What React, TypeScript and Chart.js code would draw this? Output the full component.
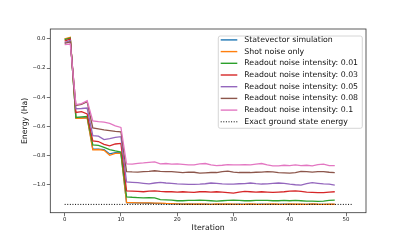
import React, { useEffect, useRef } from "react";
import { Chart, registerables } from "chart.js";

Chart.register(...registerables);

const iterations = [0,1,2,3,4,5,6,7,8,9,10,11,12,13,14,15,16,17,18,19,20,21,22,23,24,25,26,27,28,29,30,31,32,33,34,35,36,37,38,39,40,41,42,43,44,45,46,47,48];

const statevector = [0.000,0.005,-0.543,-0.542,-0.540,-0.755,-0.757,-0.760,-0.790,-0.782,-0.783,
  -1.125,-1.126,-1.127,-1.128,-1.129,-1.130,-1.131,-1.132,-1.133,-1.134,-1.135,-1.136,-1.136,-1.137,-1.136,-1.137,-1.137,-1.136,-1.137,-1.137,-1.136,-1.137,-1.137,-1.137,-1.136,-1.137,-1.137,-1.137,-1.136,-1.137,-1.137,-1.137,-1.137,-1.136,-1.137,-1.137,-1.137,-1.137];
const shotNoise = [0.000,0.010,-0.545,-0.545,-0.543,-0.762,-0.760,-0.765,-0.800,-0.787,-0.787,
  -1.124,-1.125,-1.126,-1.126,-1.127,-1.128,-1.128,-1.130,-1.131,-1.133,-1.135,-1.134,-1.136,-1.133,-1.135,-1.137,-1.134,-1.136,-1.133,-1.135,-1.137,-1.136,-1.134,-1.136,-1.137,-1.135,-1.133,-1.136,-1.137,-1.134,-1.136,-1.135,-1.137,-1.134,-1.136,-1.137,-1.135,-1.136];
const readout001 = [-0.005,0.005,-0.540,-0.535,-0.532,-0.728,-0.732,-0.745,-0.760,-0.770,-0.778,
  -1.085,-1.088,-1.090,-1.092,-1.090,-1.092,-1.104,-1.106,-1.108,-1.112,-1.112,-1.110,-1.110,-1.108,-1.110,-1.112,-1.114,-1.112,-1.110,-1.108,-1.110,-1.112,-1.112,-1.110,-1.110,-1.110,-1.112,-1.112,-1.110,-1.112,-1.110,-1.112,-1.114,-1.114,-1.116,-1.114,-1.110,-1.108];
const readout003 = [-0.015,0.000,-0.505,-0.500,-0.515,-0.700,-0.705,-0.725,-0.735,-0.722,-0.718,
  -1.044,-1.046,-1.048,-1.050,-1.046,-1.044,-1.048,-1.050,-1.050,-1.052,-1.050,-1.052,-1.054,-1.050,-1.050,-1.052,-1.050,-1.052,-1.056,-1.060,-1.052,-1.048,-1.050,-1.052,-1.050,-1.052,-1.054,-1.052,-1.050,-1.046,-1.044,-1.048,-1.052,-1.054,-1.056,-1.056,-1.052,-1.050];
const readout005 = [-0.025,-0.010,-0.480,-0.478,-0.475,-0.665,-0.668,-0.692,-0.685,-0.676,-0.672,
  -0.982,-0.985,-0.988,-0.992,-0.996,-0.990,-0.986,-0.990,-0.992,-0.996,-0.998,-1.000,-0.999,-0.998,-0.995,-0.990,-0.992,-0.996,-0.998,-0.998,-0.995,-0.994,-0.990,-0.994,-0.997,-0.996,-0.992,-0.990,-0.992,-0.998,-1.002,-1.004,-0.995,-0.988,-0.992,-0.996,-0.998,-1.004];
const readout008 = [-0.030,-0.020,-0.458,-0.450,-0.432,-0.612,-0.618,-0.625,-0.630,-0.635,-0.638,
  -0.912,-0.914,-0.915,-0.912,-0.910,-0.906,-0.910,-0.912,-0.912,-0.915,-0.918,-0.915,-0.916,-0.922,-0.920,-0.918,-0.918,-0.912,-0.908,-0.915,-0.918,-0.918,-0.918,-0.916,-0.915,-0.912,-0.914,-0.918,-0.920,-0.922,-0.918,-0.910,-0.912,-0.915,-0.912,-0.912,-0.916,-0.918];
const readout01 = [-0.040,-0.035,-0.452,-0.445,-0.425,-0.563,-0.568,-0.572,-0.580,-0.598,-0.608,
  -0.858,-0.860,-0.855,-0.852,-0.848,-0.845,-0.858,-0.856,-0.860,-0.858,-0.862,-0.866,-0.865,-0.858,-0.856,-0.866,-0.870,-0.868,-0.864,-0.866,-0.866,-0.864,-0.865,-0.860,-0.856,-0.866,-0.872,-0.872,-0.868,-0.870,-0.866,-0.870,-0.868,-0.872,-0.864,-0.860,-0.870,-0.870];

const exactX = [0, 51];
const exactEnergy = -1.137;

const seriesNames = [
  "Statevector simulation",
  "Shot noise only",
  "Readout noise intensity: 0.01",
  "Readout noise intensity: 0.03",
  "Readout noise intensity: 0.05",
  "Readout noise intensity: 0.08",
  "Readout noise intensity: 0.1",
];
const exactName = "Exact ground state energy";
const seriesColors = ["#1f77b4", "#ff7f0e", "#2ca02c", "#d62728", "#9467bd", "#8c564b", "#e377c2"];

const xTicks = [0, 10, 20, 30, 40, 50];
const yTicks = [-1.0, -0.8, -0.6, -0.4, -0.2, 0.0];

const FONT = "'DejaVu Sans', sans-serif";

const framePlugin = {
  id: "frameAndLegend",
  afterDatasetsDraw(chart: any) {
    const { ctx, chartArea } = chart;
    ctx.save();
    ctx.strokeStyle = "rgba(0,0,0,0.8)";
    ctx.lineWidth = 0.8;
    ctx.strokeRect(chartArea.left, chartArea.top, chartArea.right - chartArea.left, chartArea.bottom - chartArea.top);

    // legend
    const bx = 218.3, by = 36, bw = 144, bh = 92.3, r = 2;
    ctx.beginPath();
    ctx.moveTo(bx + r, by);
    ctx.lineTo(bx + bw - r, by);
    ctx.quadraticCurveTo(bx + bw, by, bx + bw, by + r);
    ctx.lineTo(bx + bw, by + bh - r);
    ctx.quadraticCurveTo(bx + bw, by + bh, bx + bw - r, by + bh);
    ctx.lineTo(bx + r, by + bh);
    ctx.quadraticCurveTo(bx, by + bh, bx, by + bh - r);
    ctx.lineTo(bx, by + r);
    ctx.quadraticCurveTo(bx, by, bx + r, by);
    ctx.closePath();
    ctx.fillStyle = "rgba(255,255,255,0.8)";
    ctx.fill();
    ctx.strokeStyle = "#cccccc";
    ctx.lineWidth = 0.8;
    ctx.stroke();

    const names = [...seriesNames, exactName];
    const colors = [...seriesColors, "#000000"];
    ctx.font = `7.8px ${FONT}`;
    ctx.textBaseline = "middle";
    ctx.textAlign = "left";
    names.forEach((n, k) => {
      const y = 39.9 + k * 11.7;
      ctx.beginPath();
      ctx.strokeStyle = colors[k];
      ctx.lineWidth = k === 7 ? 1.0 : 1.4;
      ctx.setLineDash(k === 7 ? [1, 1.6] : []);
      ctx.moveTo(220.7, y);
      ctx.lineTo(237.3, y);
      ctx.stroke();
      ctx.setLineDash([]);
      ctx.fillStyle = "#111";
      ctx.fillText(n, 244.3, y);
    });
    ctx.restore();
  },
};

export default function App() {
  const ref = useRef<HTMLCanvasElement | null>(null);
  useEffect(() => {
    if (!ref.current) return;
    const allSeries = [statevector, shotNoise, readout001, readout003, readout005, readout008, readout01];
    const datasets: any[] = allSeries.map((vals, i) => ({
      label: seriesNames[i],
      data: iterations.map((it, j) => ({ x: it, y: vals[j] })),
      borderColor: seriesColors[i],
      borderWidth: 1.3,
      pointRadius: 0,
      fill: false,
      tension: 0,
      order: 20 - i,
    }));
    datasets.push({
      label: exactName,
      data: exactX.map((x) => ({ x, y: exactEnergy })),
      borderColor: "#000000",
      borderWidth: 1.0,
      borderDash: [1, 1.6],
      pointRadius: 0,
      fill: false,
      order: 0,
    });
    const chart = new Chart(ref.current, {
      type: "line",
      data: { datasets },
      options: {
        animation: false,
        responsive: false,
        events: [],
        layout: { padding: { left: 0, right: 41, top: 29, bottom: 0 } },
        plugins: { legend: { display: false }, tooltip: { enabled: false } },
        scales: {
          x: {
            type: "linear",
            min: -2.55,
            max: 53.55,
            afterBuildTicks: (s: any) => { s.ticks = xTicks.map((v) => ({ value: v })); },
            afterFit: (s: any) => { s.height = 31.3; },
            ticks: {
              font: { family: FONT, size: 5.4 },
              color: "#222",
              padding: 0.3,
              maxRotation: 0,
              callback: (v: any) => String(v),
            },
            grid: { display: true, drawOnChartArea: false, drawTicks: true, tickLength: 3.5, color: "#333", lineWidth: 0.7 },
            border: { display: false },
            title: { display: true, text: "Iteration", font: { family: FONT, size: 7.8 }, color: "#111", padding: { top: 0, bottom: 11.3 } },
          },
          y: {
            type: "linear",
            min: -1.194,
            max: 0.068,
            afterBuildTicks: (s: any) => { s.ticks = yTicks.map((v) => ({ value: v })); },
            afterFit: (s: any) => { s.width = 50.3; },
            ticks: {
              font: { family: FONT, size: 5.4 },
              color: "#222",
              padding: 1.3,
              callback: (v: any) => Number(v).toFixed(1).replace("-", "\u2212"),
            },
            grid: { display: true, drawOnChartArea: false, drawTicks: true, tickLength: 3.5, color: "#333", lineWidth: 0.7 },
            border: { display: false },
            title: { display: true, text: "Energy (Ha)", font: { family: FONT, size: 7.8 }, color: "#111", padding: { top: 20.3, bottom: 0 } },
          },
        },
      },
      plugins: [framePlugin],
    } as any);
    return () => chart.destroy();
  }, []);
  return (
    <div style={{ position: "fixed", left: 0, top: 0, width: 407, height: 244, background: "#fff" }}>
      <canvas ref={ref} width={407} height={244} style={{ display: "block", width: 407, height: 244 }} />
    </div>
  );
}
